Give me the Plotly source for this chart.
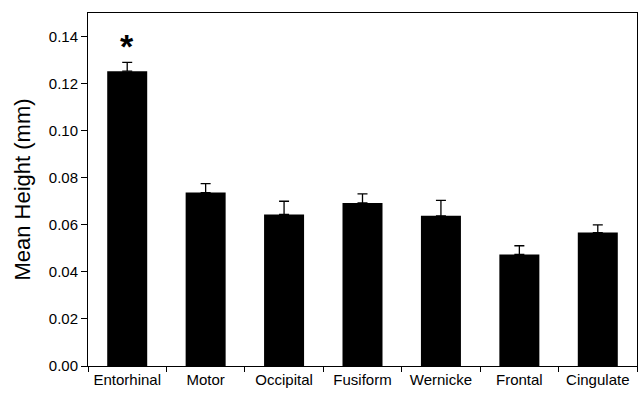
import plotly.graph_objects as go

# Cortical regions and their mean heights (mm) with standard errors
regions = ["Entorhinal", "Motor", "Occipital", "Fusiform", "Wernicke", "Frontal", "Cingulate"]
mean_height = [0.1253, 0.0737, 0.0644, 0.0693, 0.0638, 0.0474, 0.0567]
std_error = [0.0037, 0.0038, 0.0056, 0.0038, 0.0066, 0.0037, 0.0033]
y_ticks = [0.00, 0.02, 0.04, 0.06, 0.08, 0.10, 0.12, 0.14]

font_family = "Arial, Liberation Sans, sans-serif"

fig = go.Figure(
    go.Bar(
        x=regions,
        y=mean_height,
        marker=dict(color="black", line=dict(width=0)),
        error_y=dict(
            type="data",
            array=std_error,
            symmetric=False,
            arrayminus=[0] * len(std_error),
            color="black",
            thickness=1.3,
            width=5,
        ),
    )
)

# Significance marker above the entorhinal bar
fig.add_annotation(
    x=regions[0],
    y=mean_height[0] + std_error[0],
    yanchor="bottom",
    yshift=-5,
    text="<b>*</b>",
    showarrow=False,
    font=dict(family=font_family, size=34, color="black"),
)

fig.update_layout(
    width=641,
    height=393,
    margin=dict(l=88, r=4, t=13, b=27),
    plot_bgcolor="white",
    paper_bgcolor="white",
    bargap=0.49,
    showlegend=False,
    font=dict(family=font_family, color="black"),
)

fig.update_xaxes(
    showline=True,
    linecolor="black",
    linewidth=1,
    mirror=True,
    ticks="outside",
    tickson="boundaries",
    ticklen=5,
    tickcolor="black",
    tickangle=0,
    tickfont=dict(size=15),
    showgrid=False,
    automargin=False,
)

fig.update_yaxes(
    range=[0, 0.15],
    tickvals=y_ticks,
    tickformat=".2f",
    showline=True,
    linecolor="black",
    linewidth=1,
    mirror=True,
    ticks="outside",
    ticklen=6,
    tickcolor="black",
    tickfont=dict(size=15),
    showgrid=False,
    zeroline=False,
    automargin=False,
    title=dict(text="Mean Height (mm)", font=dict(size=22), standoff=12),
)

fig.write_html("out.html")
